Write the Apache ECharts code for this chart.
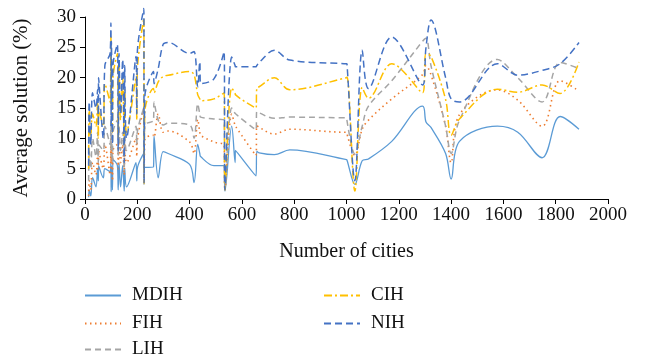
<!DOCTYPE html>
<html>
<head>
<meta charset="utf-8">
<script src="https://cdn.jsdelivr.net/npm/echarts@6/dist/echarts.min.js"></script>
<style>
    html, body { margin: 0; padding: 0; background: #fff; }
    #chart { width: 645px; height: 357px; }
</style>
</head>
<body>
<div id="chart"></div>
<script>
// number of cities of each instance
const cities = [14, 16, 22, 29, 42, 48, 51, 52, 70, 76, 96, 99, 100, 101, 105, 107, 124, 127, 130, 136,
    144, 150, 152, 159, 195, 198, 200, 225, 226, 229, 262, 264, 280, 299, 318, 400, 417, 431, 439, 442,
    493, 532, 535, 561, 574, 575, 654, 657, 666, 724, 783, 1000, 1002, 1032, 1060, 1084, 1173, 1291, 1304, 1323,
    1379, 1400, 1432, 1577, 1655, 1748, 1817, 1889]

const mdih = [0.3, 1.5, 0.5, 3.5, 2, 5, 3, 5.5, 3.5, 5, 4.5, 6, 1.2, 5.5, 1.5, 6.5, 5.5, 1.5, 6, 2,
    5.5, 1.3, 5, 2, 6, 3, 5, 7.5, 5.2, 5.2, 5.3, 10.4, 3.5, 7.8, 7.5, 5.7, 2.7, 9, 7.5, 7,
    5.5, 5.5, 1.3, 12, 6, 8, 3.8, 7.9, 7.6, 7.3, 8.1, 6.5, 6.4, 2.4, 6.3, 6.6, 9.5, 15.3, 12.7, 11.8,
    7.5, 3.3, 9.5, 12, 11, 6.8, 13.6, 11.5]

const fih = [0.5, 3, 1.5, 6, 4, 7.5, 5, 8, 5, 9, 4, 10, 6, 9, 3, 8, 9, 5, 10, 6,
    9, 4, 9, 6, 10, 7, 9.5, 15, 2.6, 9.8, 10.5, 10.2, 14, 11, 11.2, 9.4, 7.5, 13.1, 11, 10.5,
    9.4, 8.8, 1.4, 14, 12.1, 12, 7.2, 12.1, 11.8, 10.7, 11.5, 11, 11, 7.2, 11.5, 13, 16.5, 20.5, 22, 20.5,
    12, 6, 13.9, 18, 16.3, 12, 19.5, 17.8]

const lih = [3, 8, 5, 10, 7, 11, 6, 9, 8, 12, 9, 13, 7, 12, 6, 11, 13, 7, 12, 8,
    11, 5, 12, 8, 12, 9, 11, 15, 7, 12.2, 13, 16, 13, 12.2, 12.5, 12.2, 10, 15.7, 14, 13.5,
    13.2, 13, 1.7, 15, 14.1, 14, 11.4, 14.4, 14.2, 13.3, 13.5, 13.4, 13.4, 7.4, 12, 15.3, 19.5, 26, 26.5, 22,
    12, 7.5, 13, 23, 20, 16, 22.5, 21.5]

const cih = [5, 15, 10, 14, 12, 16, 10, 15, 12, 19, 16, 27, 15, 22, 11, 20, 24, 10, 22, 13,
    20, 9, 18, 11, 20, 13, 21, 29.8, 2.5, 14.5, 18.2, 17.5, 19.3, 20.2, 20.4, 21, 20.5, 17.2, 16.5, 16.2,
    16.5, 17.5, 1.5, 18.3, 17.4, 17.2, 15, 18.3, 18.5, 20, 18, 20, 20.1, 1.3, 18.4, 16.6, 22.3, 17.5, 24, 23.5,
    16.4, 10.5, 13.2, 18.1, 17.6, 18.8, 17.4, 22.6]

const nih = [5.5, 16, 9, 17.5, 15, 18, 12, 20, 10, 22, 24, 29, 12, 26, 9, 22, 25.5, 8, 24, 14,
    23, 6, 22, 10, 23.5, 14, 24, 31.4, 2.5, 17, 21, 19, 21.5, 25.5, 25.8, 24, 24.3, 18.5, 22.6, 19,
    19.8, 24.3, 1.5, 23.4, 22, 21.8, 21.8, 22, 22.5, 24.5, 22.9, 22.3, 22.2, 3, 24.5, 18.2, 26.7, 18.8, 25, 29.5,
    20, 16.5, 16, 22.3, 20.4, 21.2, 22.3, 25.8]

const font = "Liberation Serif"

function pairs(vals){
    return cities.map((c, i) => [c, vals[i]])
}

function makeSeries(name, vals, color, dash, width){
    return {
        name: name,
        type: "line",
        data: pairs(vals),
        smooth: 0.35,
        symbol: "none",
        clip: false,
        lineStyle: { color: color, width: width, type: dash },
        itemStyle: { color: color },
        animation: false
    }
}

// one legend per entry so the two columns sit where they do in the figure
function makeLegend(name, left, top){
    return {
        data: [name],
        left: left,
        top: top,
        itemWidth: 36,
        itemHeight: 12,
        itemStyle: { opacity: 0 },
        textStyle: { fontFamily: font, fontSize: 19, color: "#111", padding: [0, 0, 0, 6] }
    }
}

let myChart = echarts.init(document.getElementById("chart"))

let option = {
    backgroundColor: "#fff",
    grid: { left: 85, right: 37, top: 17, bottom: 158 },
    xAxis: {
        type: "value",
        min: 0,
        max: 2000,
        interval: 200,
        name: "Number of cities",
        nameLocation: "middle",
        nameGap: 43,
        nameTextStyle: { fontFamily: font, fontSize: 20, color: "#111" },
        axisLine: { lineStyle: { color: "#000", width: 1 } },
        axisTick: { show: true, length: 5, lineStyle: { color: "#000" } },
        axisLabel: { fontFamily: font, fontSize: 19, color: "#111", margin: 7, formatter: v => String(v) },
        splitLine: { show: false }
    },
    yAxis: {
        type: "value",
        min: 0,
        max: 30,
        interval: 5,
        name: "Average solution (%)",
        nameLocation: "middle",
        nameGap: 53,
        nameTextStyle: { fontFamily: font, fontSize: 21, color: "#111" },
        axisLine: { show: true, lineStyle: { color: "#000", width: 1 } },
        axisTick: { show: true, length: 5, lineStyle: { color: "#000" } },
        axisLabel: { fontFamily: font, fontSize: 19, color: "#111", margin: 9 },
        splitLine: { show: false }
    },
    legend: [
        makeLegend("MDIH", 79, 281),
        makeLegend("FIH", 79, 309),
        makeLegend("LIH", 79, 335),
        makeLegend("CIH", 318, 281),
        makeLegend("NIH", 318, 309)
    ],
    series: [
        makeSeries("MDIH", mdih, "#5B9BD5", "solid", 1.3),
        makeSeries("FIH", fih, "#ED7D31", [1.5, 3.5], 1.6),
        makeSeries("LIH", lih, "#A5A5A5", [6, 4], 1.5),
        makeSeries("CIH", cih, "#FFC000", [8, 3, 2, 3], 1.5),
        makeSeries("NIH", nih, "#4472C4", [7, 4], 1.5)
    ]
}
myChart.setOption(option)
</script>
</body>
</html>
